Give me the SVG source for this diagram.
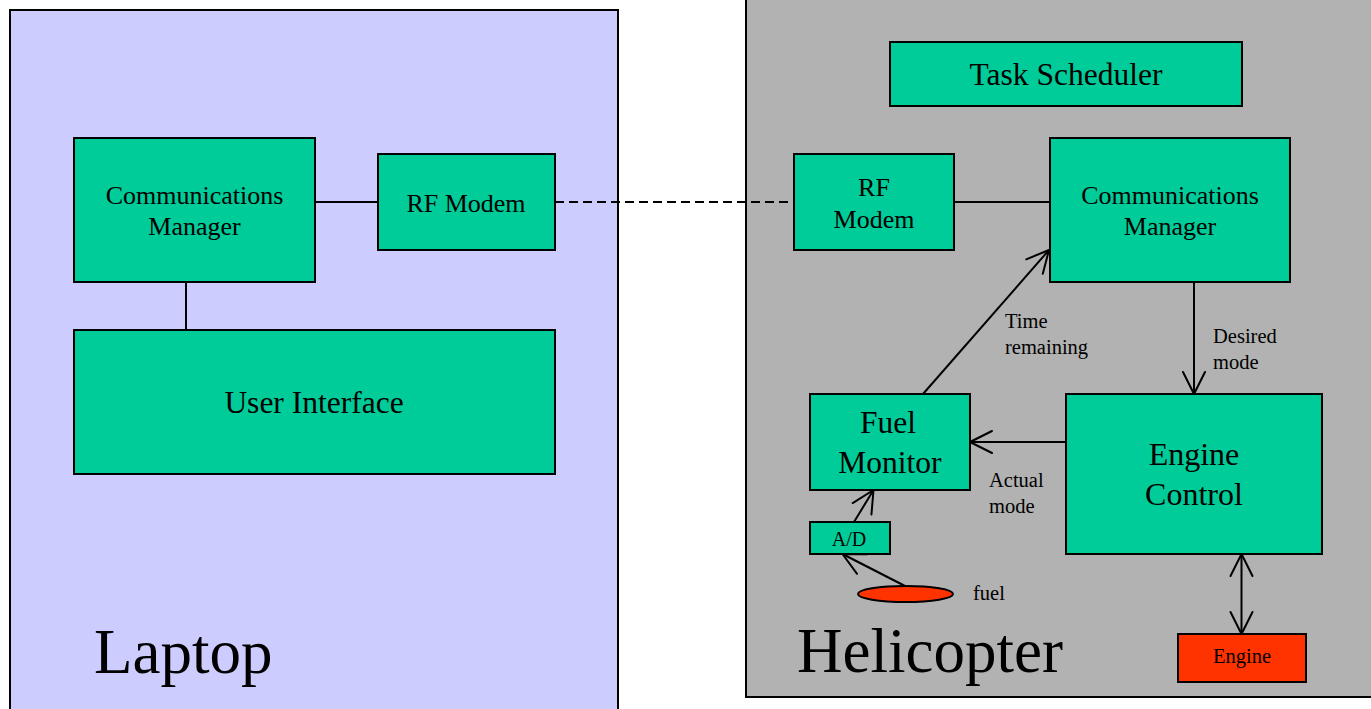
<svg xmlns="http://www.w3.org/2000/svg" width="1371" height="709" viewBox="0 0 1371 709">
  <style>
    text { font-family: "Liberation Serif", "Times New Roman", serif; fill: #000; text-anchor: middle; }
    .box { fill: #00CC99; stroke: #000; stroke-width: 2; }
    .hot { fill: #FF3300; stroke: #000; stroke-width: 2; }
    .wire { fill: none; stroke: #000; stroke-width: 2; }
    .radio { fill: none; stroke: #000; stroke-width: 2; stroke-dasharray: 9 5; }
    .lbl { font-size: 20.5px; text-anchor: start; }
    .big { font-size: 63px; text-anchor: start; }
  </style>
  <defs>
    <marker id="open" viewBox="0 0 24 24" refX="22" refY="11" markerWidth="24" markerHeight="24" markerUnits="userSpaceOnUse" orient="auto-start-reverse" overflow="visible">
      <path d="M0,0 L22,11 L0,22" fill="none" stroke="#000" stroke-width="2" stroke-linejoin="round" stroke-linecap="round"/>
    </marker>
  </defs>

  <!-- enclosures -->
  <g id="laptop">
    <rect x="10" y="10" width="608" height="720" fill="#CCCCFF" stroke="#000" stroke-width="2"/>
    <text class="big" x="94" y="673">Laptop</text>
  </g>
  <g id="helicopter">
    <rect x="746" y="-10" width="640" height="707" fill="#B2B2B2" stroke="#000" stroke-width="2"/>
    <text class="big" x="797" y="672">Helicopter</text>
  </g>

  <!-- connectors -->
  <g id="connectors">
    <line class="wire" x1="315" y1="202" x2="378" y2="202"/>
    <line class="wire" x1="186" y1="282" x2="186" y2="330"/>
    <line class="radio" x1="555" y1="202" x2="794" y2="202"/>
    <line class="wire" x1="954" y1="202" x2="1050" y2="202"/>
    <line class="wire" x1="923" y1="394" x2="1049" y2="250" marker-end="url(#open)"/>
    <line class="wire" x1="1194" y1="282" x2="1194" y2="394" marker-end="url(#open)"/>
    <line class="wire" x1="1066" y1="442" x2="970" y2="442" marker-end="url(#open)"/>
    <line class="wire" x1="854" y1="522" x2="873.5" y2="490" marker-end="url(#open)"/>
    <line class="wire" x1="905" y1="586" x2="842.5" y2="554" marker-end="url(#open)"/>
    <line class="wire" x1="1241.5" y1="554" x2="1241.5" y2="634" marker-start="url(#open)" marker-end="url(#open)"/>
    <text class="lbl" x="1005" y="328">Time</text>
    <text class="lbl" x="1005" y="354">remaining</text>
    <text class="lbl" x="1213" y="343">Desired</text>
    <text class="lbl" x="1213" y="369">mode</text>
    <text class="lbl" x="989" y="487">Actual</text>
    <text class="lbl" x="989" y="513">mode</text>
  </g>

  <!-- laptop nodes -->
  <g id="laptop-comms">
    <rect class="box" x="74" y="138" width="241" height="144"/>
    <text x="194.5" y="204" font-size="26">Communications</text>
    <text x="194.5" y="235" font-size="26">Manager</text>
  </g>
  <g id="laptop-modem">
    <rect class="box" x="378" y="154" width="177" height="96"/>
    <text x="466" y="212" font-size="26">RF Modem</text>
  </g>
  <g id="user-interface">
    <rect class="box" x="74" y="330" width="481" height="144"/>
    <text x="314" y="413" font-size="31.5">User Interface</text>
  </g>

  <!-- helicopter nodes -->
  <g id="task-scheduler">
    <rect class="box" x="890" y="42" width="352" height="64"/>
    <text x="1066" y="85" font-size="31.5">Task Scheduler</text>
  </g>
  <g id="heli-modem">
    <rect class="box" x="794" y="154" width="160" height="96"/>
    <text x="874" y="196" font-size="26">RF</text>
    <text x="874" y="228" font-size="26">Modem</text>
  </g>
  <g id="heli-comms">
    <rect class="box" x="1050" y="138" width="240" height="144"/>
    <text x="1170" y="204" font-size="26">Communications</text>
    <text x="1170" y="235" font-size="26">Manager</text>
  </g>
  <g id="fuel-monitor">
    <rect class="box" x="810" y="394" width="160" height="96"/>
    <text x="888" y="433" font-size="31.5">Fuel</text>
    <text x="890" y="473" font-size="31.5">Monitor</text>
  </g>
  <g id="engine-control">
    <rect class="box" x="1066" y="394" width="256" height="160"/>
    <text x="1194" y="465" font-size="32">Engine</text>
    <text x="1194" y="505" font-size="32">Control</text>
  </g>
  <g id="adc">
    <rect class="box" x="810" y="522" width="80" height="32"/>
    <text x="849" y="546" font-size="20">A/D</text>
  </g>
  <g id="fuel">
    <ellipse class="hot" cx="905.5" cy="594" rx="47.5" ry="8"/>
    <text class="lbl" x="973" y="600" font-size="20">fuel</text>
  </g>
  <g id="engine">
    <rect class="hot" x="1178" y="634" width="128" height="48"/>
    <text x="1242" y="663" font-size="20.5">Engine</text>
  </g>
</svg>
